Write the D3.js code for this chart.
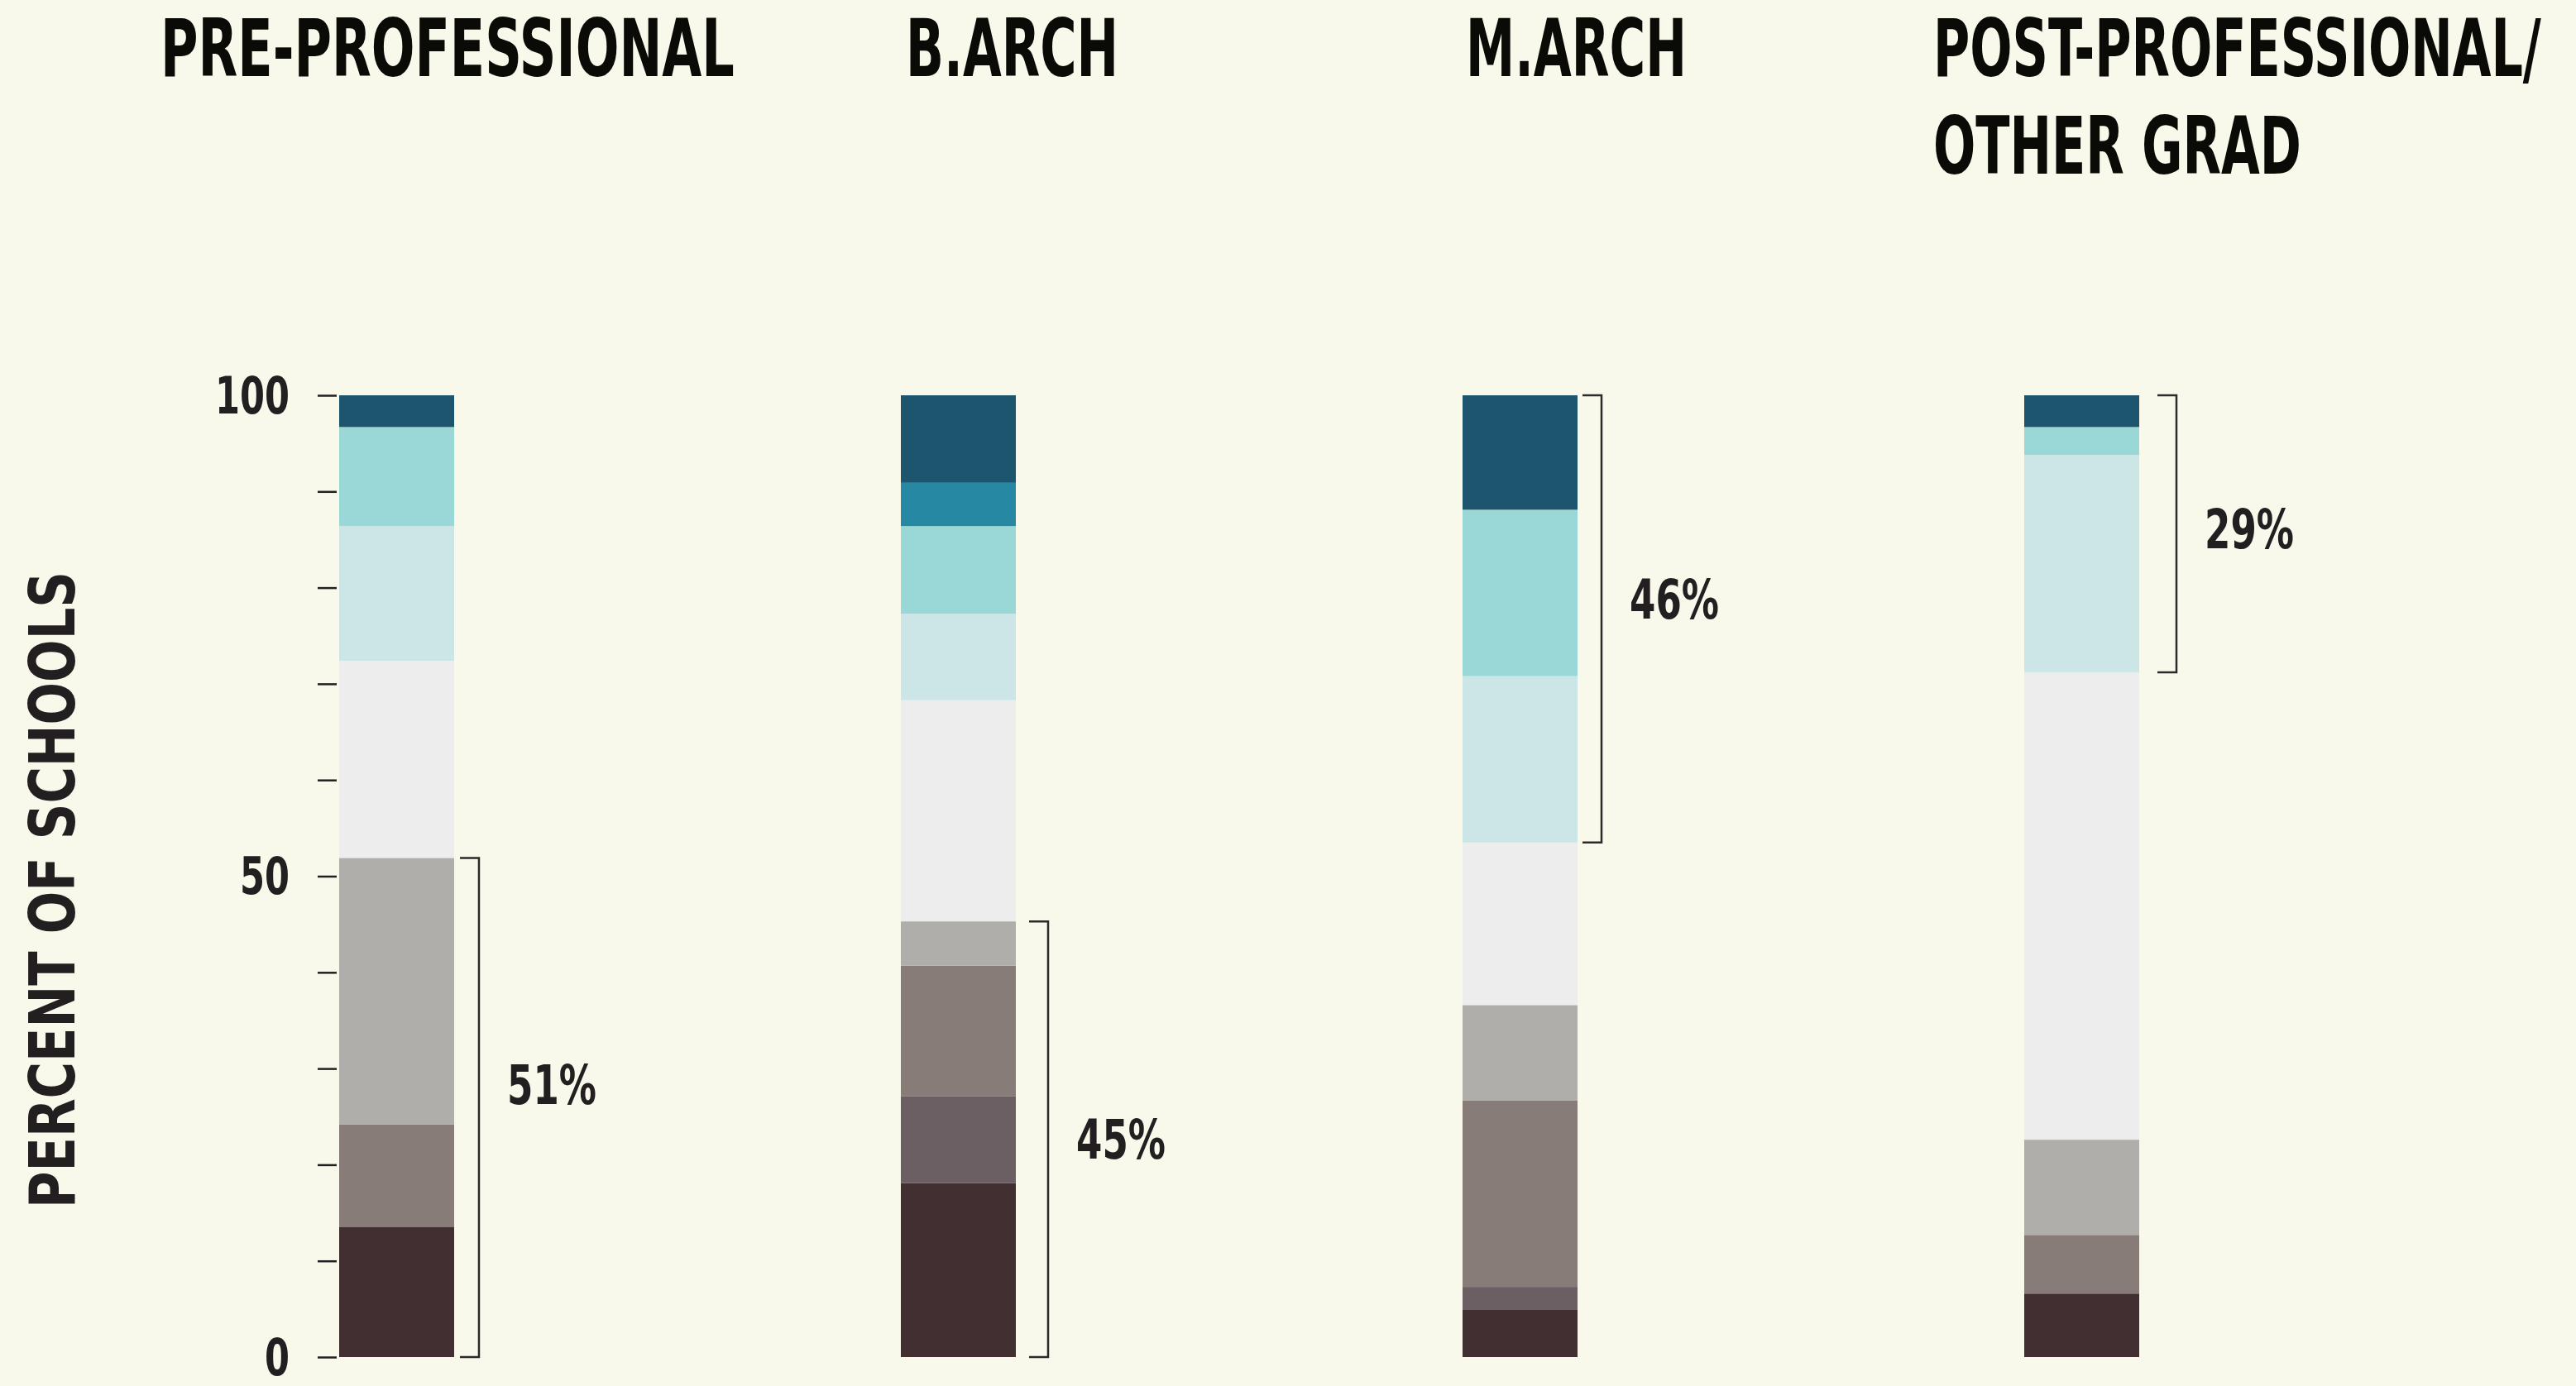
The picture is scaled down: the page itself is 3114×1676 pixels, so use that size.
<!DOCTYPE html>
<html>
<head>
<meta charset="utf-8">
<script src="https://cdn.jsdelivr.net/npm/d3@7"></script>
<style>
  html, body { margin: 0; padding: 0; background: #f8f8eb; }
  svg { display: block; }
</style>
</head>
<body>
<svg id="chart" width="3114" height="1676"></svg>
<script>
// ---------------- DATA ----------------
const categories = ["PRE-PROFESSIONAL", "B.ARCH", "M.ARCH", "POST-PROFESSIONAL/OTHER GRAD"];
const titleLines = [["PRE-PROFESSIONAL"], ["B.ARCH"], ["M.ARCH"], ["POST-PROFESSIONAL/", "OTHER GRAD"]];
const seriesKeys = ["s1", "s2", "s3", "s4", "s5", "s6", "s7", "s8", "s9"];
// values per series (bottom to top), one per category
const s1 = [13.5, 18.1, 4.9, 6.6];   // darkest
const s2 = [0.0, 9.0, 2.4, 0.0];     // dark mauve
const s3 = [10.7, 13.6, 19.4, 6.1];  // brown-grey
const s4 = [27.7, 4.6, 9.9, 9.9];    // grey
const s5 = [20.5, 23.0, 16.9, 48.6]; // light grey
const s6 = [14.0, 9.0, 17.3, 22.6];  // pale blue
const s7 = [10.3, 9.1, 17.3, 2.9];   // aqua
const s8 = [0.0, 4.5, 0.0, 0.0];     // teal
const s9 = [3.3, 9.1, 11.9, 3.3];    // navy
const seriesValues = [s1, s2, s3, s4, s5, s6, s7, s8, s9];
const seriesColors = ["#412f31", "#6b5f63", "#877c77", "#afaeaa", "#ededed", "#cce6e7", "#9ad8d7", "#2688a2", "#1d546e"];
// brackets: covered series range (inclusive indices) and label
const bracketFrom = [0, 0, 5, 5];
const bracketTo = [3, 3, 8, 8];
const bracketLabels = ["51%", "45%", "46%", "29%"];
const tickValues = [0, 10, 20, 30, 40, 50, 60, 70, 80, 90, 100];
const tickLabels = ["0", "", "", "", "", "50", "", "", "", "", "100"];

// ---------------- LAYOUT ----------------
const svg = d3.select("#chart");
const INK = "#231f20";
const FONT = "'Liberation Sans Narrow', 'DejaVu Sans Condensed', 'Liberation Sans', sans-serif";

// squeeze a text horizontally to a target width using a transform (keeps bbox honest)
function fitText(node, x, y, targetW, anchor) {
  const w = node.getComputedTextLength();
  const sx = targetW / w;
  node.setAttribute("x", 0);
  node.setAttribute("y", 0);
  node.setAttribute("transform", `translate(${x},${y}) scale(${sx},1)`);
  if (anchor) node.setAttribute("text-anchor", anchor);
}

const rows = categories.map((c, i) => {
  const r = { cat: c };
  seriesKeys.forEach((k, j) => r[k] = seriesValues[j][i]);
  return r;
});
const stacked = d3.stack().keys(seriesKeys)(rows);

const x = d3.scaleBand().domain(categories).range([410, 2586]).paddingInner(0.7953).paddingOuter(0);
const y = d3.scaleLinear().domain([0, 100]).range([1641, 478]);

// bars
svg.append("g").selectAll("g").data(stacked).join("g")
  .attr("fill", (d, i) => seriesColors[i])
  .selectAll("rect").data(d => d).join("rect")
  .attr("x", d => x(d.data.cat))
  .attr("width", x.bandwidth())
  .attr("y", d => y(d[1]))
  .attr("height", d => Math.max(0, y(d[0]) - y(d[1])));

// axis
const axis = d3.axisLeft(y).tickValues(tickValues).tickSize(23).tickPadding(34)
  .tickFormat((d, i) => tickLabels[i]);
const ag = svg.append("g").attr("transform", "translate(407,0)").call(axis);
ag.select(".domain").remove();
ag.selectAll(".tick line").attr("stroke", INK).attr("stroke-width", 2.5);
ag.selectAll(".tick text")
  .attr("fill", INK)
  .style("font-family", FONT)
  .style("font-weight", "bold")
  .style("font-size", "62px")
  .attr("dy", null)
  .each(function(d, i) {
    const t = tickLabels[i];
    if (t) fitText(this, -57, 21, t.length * 30, "end");
  });

// y-axis title
const yt = svg.append("text")
  .attr("fill", INK)
  .style("font-family", FONT)
  .style("font-weight", "bold")
  .style("font-size", "76px")
  .attr("text-anchor", "middle")
  .text("PERCENT OF SCHOOLS");
{
  const n = yt.node();
  const w = n.getComputedTextLength();
  n.setAttribute("transform", `translate(90,1076) rotate(-90) scale(${770 / w},1)`);
}

// column titles
const titleX = [194, 1095, 1772, 2337];
const titleW = [[694], [257], [267], [735, 445]];
categories.forEach((c, i) => {
  titleLines[i].forEach((line, j) => {
    const t = svg.append("text")
      .attr("fill", "#0a0a06")
      .style("font-family", FONT)
      .style("font-weight", "bold")
      .style("font-size", "97px")
      .text(line);
    fitText(t.node(), titleX[i], 92 + j * 118, titleW[i][j]);
  });
});

// brackets
const bracketGap = [7, 16, 6, 22];
const labelShift = [-28, -1, -24, -6];
categories.forEach((c, i) => {
  const lo = stacked[bracketFrom[i]][i][0];
  const hi = stacked[bracketTo[i]][i][1];
  const x0 = x(c) + x.bandwidth() + bracketGap[i];
  const x1 = x0 + 23;
  const yTop = y(hi), yBot = y(lo);
  svg.append("path")
    .attr("d", d3.line()([[x0, yTop], [x1, yTop], [x1, yBot], [x0, yBot]]))
    .attr("fill", "none")
    .attr("stroke", "#2a2a2a")
    .attr("stroke-width", 2.5);
  const t = svg.append("text")
    .attr("fill", INK)
    .style("font-family", FONT)
    .style("font-weight", "bold")
    .style("font-size", "66px")
    .text(bracketLabels[i]);
  fitText(t.node(), x1 + 34, (yTop + yBot) / 2 + labelShift[i] + 24, 108);
});
</script>
</body>
</html>
